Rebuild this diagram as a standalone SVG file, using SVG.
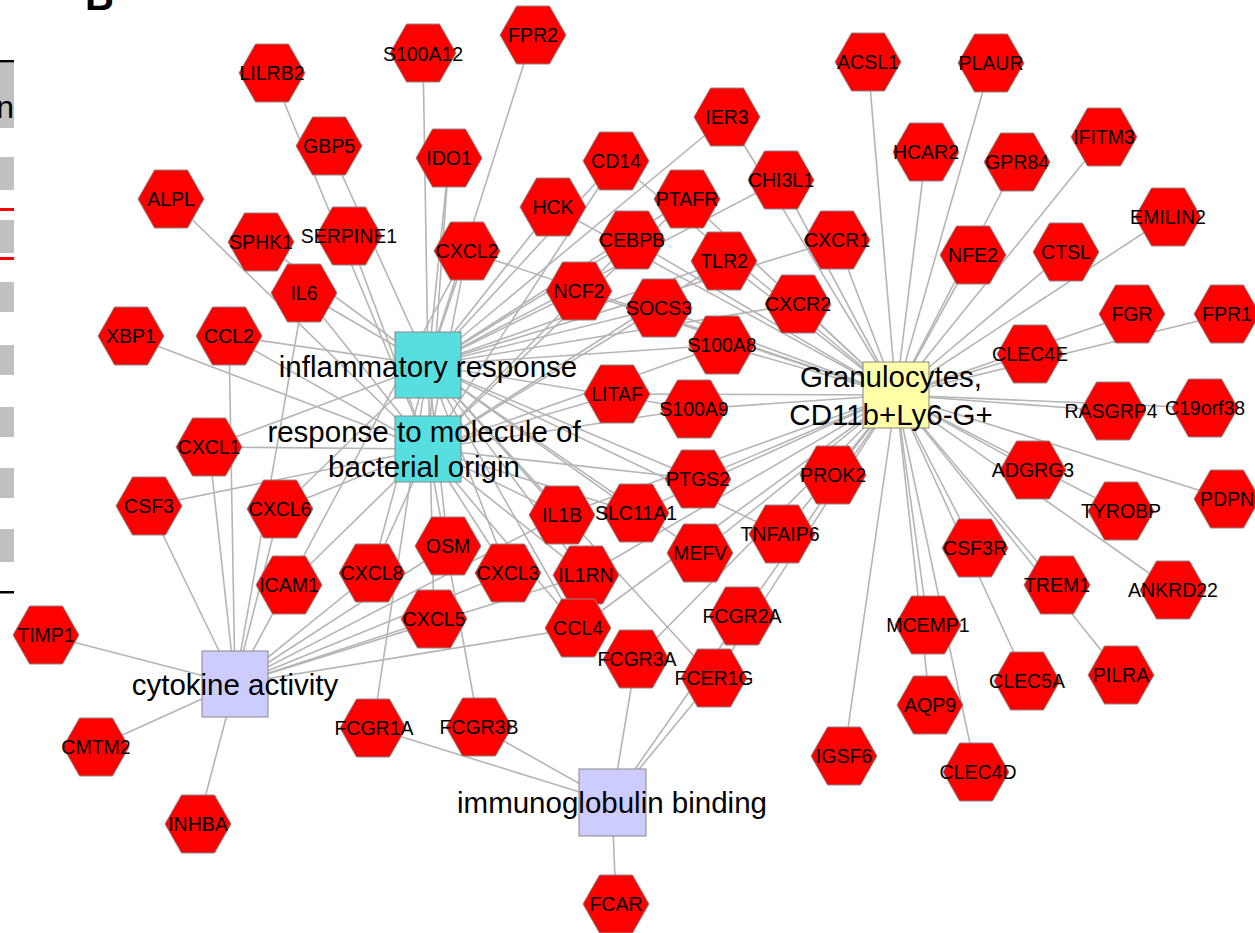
<svg xmlns="http://www.w3.org/2000/svg" xmlns:xlink="http://www.w3.org/1999/xlink" width="1255" height="933" viewBox="0 0 1255 933">
<style>
.e line{stroke:#b5b5b5;stroke-width:1.6}
.hx{fill:#ff0000;stroke:#888888;stroke-width:1}
.g{font-family:"Liberation Sans",Arial,sans-serif;font-size:19.5px;fill:#000;text-anchor:middle}
.h{font-family:"Liberation Sans",Arial,sans-serif;font-size:29.5px;fill:#000;text-anchor:middle}
.cy{fill:#57dfdf;stroke:#888888;stroke-width:1}
.lv{fill:#ccccff;stroke:#888888;stroke-width:1}
.yl{fill:#ffffa8;stroke:#888888;stroke-width:1}
.tb{fill:#c0c0c0}
</style>
<defs>
<polygon id="hex" points="-33,0 -16.5,-29 16.5,-29 33,0 16.5,29 -16.5,29"/>
</defs>
<rect x="0" y="0" width="1255" height="933" fill="#ffffff"/>
<g id="panel-edge">
<text x="85" y="10" font-family="Liberation Sans,Arial,sans-serif" font-size="40" font-weight="bold">B</text>
<rect x="0" y="60" width="14" height="2.5" fill="#000"/>
<rect class="tb" x="0" y="63" width="14" height="65"/>
<text x="14" y="118" font-family="Liberation Sans,Arial,sans-serif" font-size="32" text-anchor="end">on</text>
<rect class="tb" x="0" y="157" width="14" height="33"/>
<rect x="0" y="208" width="14" height="3" fill="#ff0000"/>
<rect class="tb" x="0" y="220" width="14" height="33"/>
<rect x="0" y="257" width="14" height="3" fill="#ff0000"/>
<rect class="tb" x="0" y="282" width="14" height="30"/>
<rect class="tb" x="0" y="345" width="14" height="30"/>
<rect class="tb" x="0" y="407" width="14" height="30"/>
<rect class="tb" x="0" y="468" width="14" height="30"/>
<rect class="tb" x="0" y="529" width="14" height="33"/>
<rect x="0" y="591" width="14" height="2.5" fill="#000"/>
</g>
<g id="edges" class="e">
<!-- inflammatory response -->
<line x1="428" y1="365" x2="329" y2="146"/>
<line x1="428" y1="365" x2="423" y2="53"/>
<line x1="428" y1="365" x2="533" y2="35"/>
<line x1="428" y1="365" x2="449" y2="158"/>
<line x1="428" y1="365" x2="261" y2="242"/>
<line x1="428" y1="365" x2="304" y2="293"/>
<line x1="428" y1="365" x2="229" y2="336"/>
<line x1="428" y1="365" x2="209" y2="447"/>
<line x1="428" y1="365" x2="280" y2="509"/>
<line x1="428" y1="365" x2="467" y2="251"/>
<line x1="428" y1="365" x2="553" y2="207"/>
<line x1="428" y1="365" x2="579" y2="291"/>
<line x1="428" y1="365" x2="616" y2="161"/>
<line x1="428" y1="365" x2="727" y2="117"/>
<line x1="428" y1="365" x2="781" y2="180"/>
<line x1="428" y1="365" x2="687" y2="199"/>
<line x1="428" y1="365" x2="632" y2="240"/>
<line x1="428" y1="365" x2="724" y2="261"/>
<line x1="428" y1="365" x2="837" y2="240"/>
<line x1="428" y1="365" x2="798" y2="304"/>
<line x1="428" y1="365" x2="659" y2="308"/>
<line x1="428" y1="365" x2="722" y2="345"/>
<line x1="428" y1="365" x2="694" y2="409"/>
<line x1="428" y1="365" x2="698" y2="479"/>
<line x1="428" y1="365" x2="782" y2="534"/>
<line x1="428" y1="365" x2="700" y2="553"/>
<line x1="428" y1="365" x2="636" y2="513"/>
<line x1="428" y1="365" x2="562" y2="515"/>
<line x1="428" y1="365" x2="586" y2="575"/>
<line x1="428" y1="365" x2="448" y2="546"/>
<line x1="428" y1="365" x2="372" y2="573"/>
<line x1="428" y1="365" x2="508" y2="573"/>
<line x1="428" y1="365" x2="434" y2="619"/>
<line x1="428" y1="365" x2="578" y2="628"/>
<line x1="428" y1="365" x2="373" y2="728"/>
<line x1="428" y1="365" x2="714" y2="678"/>
<!-- response to molecule of bacterial origin -->
<line x1="428" y1="449" x2="272" y2="73"/>
<line x1="428" y1="449" x2="449" y2="158"/>
<line x1="428" y1="449" x2="171" y2="199"/>
<line x1="428" y1="449" x2="349" y2="236"/>
<line x1="428" y1="449" x2="304" y2="293"/>
<line x1="428" y1="449" x2="131" y2="336"/>
<line x1="428" y1="449" x2="229" y2="336"/>
<line x1="428" y1="449" x2="209" y2="447"/>
<line x1="428" y1="449" x2="149" y2="506"/>
<line x1="428" y1="449" x2="280" y2="509"/>
<line x1="428" y1="449" x2="289" y2="585"/>
<line x1="428" y1="449" x2="467" y2="251"/>
<line x1="428" y1="449" x2="616" y2="161"/>
<line x1="428" y1="449" x2="687" y2="199"/>
<line x1="428" y1="449" x2="632" y2="240"/>
<line x1="428" y1="449" x2="724" y2="261"/>
<line x1="428" y1="449" x2="659" y2="308"/>
<line x1="428" y1="449" x2="722" y2="345"/>
<line x1="428" y1="449" x2="617" y2="394"/>
<line x1="428" y1="449" x2="694" y2="409"/>
<line x1="428" y1="449" x2="698" y2="479"/>
<line x1="428" y1="449" x2="636" y2="513"/>
<line x1="428" y1="449" x2="562" y2="515"/>
<line x1="428" y1="449" x2="586" y2="575"/>
<line x1="428" y1="449" x2="372" y2="573"/>
<line x1="428" y1="449" x2="508" y2="573"/>
<line x1="428" y1="449" x2="578" y2="628"/>
<line x1="428" y1="449" x2="479" y2="727"/>
<!-- cytokine activity -->
<line x1="235" y1="684" x2="304" y2="293"/>
<line x1="235" y1="684" x2="229" y2="336"/>
<line x1="235" y1="684" x2="209" y2="447"/>
<line x1="235" y1="684" x2="149" y2="506"/>
<line x1="235" y1="684" x2="280" y2="509"/>
<line x1="235" y1="684" x2="467" y2="251"/>
<line x1="235" y1="684" x2="46" y2="635"/>
<line x1="235" y1="684" x2="96" y2="747"/>
<line x1="235" y1="684" x2="198" y2="824"/>
<line x1="235" y1="684" x2="372" y2="573"/>
<line x1="235" y1="684" x2="448" y2="546"/>
<line x1="235" y1="684" x2="508" y2="573"/>
<line x1="235" y1="684" x2="434" y2="619"/>
<line x1="235" y1="684" x2="562" y2="515"/>
<line x1="235" y1="684" x2="586" y2="575"/>
<line x1="235" y1="684" x2="578" y2="628"/>
<!-- immunoglobulin binding -->
<line x1="612" y1="802" x2="373" y2="728"/>
<line x1="612" y1="802" x2="479" y2="727"/>
<line x1="612" y1="802" x2="636" y2="659"/>
<line x1="612" y1="802" x2="714" y2="678"/>
<line x1="612" y1="802" x2="742" y2="616"/>
<line x1="612" y1="802" x2="616" y2="904"/>
<!-- granulocytes -->
<line x1="896" y1="395" x2="467" y2="251"/>
<line x1="896" y1="395" x2="553" y2="207"/>
<line x1="896" y1="395" x2="579" y2="291"/>
<line x1="896" y1="395" x2="616" y2="161"/>
<line x1="896" y1="395" x2="727" y2="117"/>
<line x1="896" y1="395" x2="781" y2="180"/>
<line x1="896" y1="395" x2="687" y2="199"/>
<line x1="896" y1="395" x2="632" y2="240"/>
<line x1="896" y1="395" x2="724" y2="261"/>
<line x1="896" y1="395" x2="837" y2="240"/>
<line x1="896" y1="395" x2="798" y2="304"/>
<line x1="896" y1="395" x2="659" y2="308"/>
<line x1="896" y1="395" x2="722" y2="345"/>
<line x1="896" y1="395" x2="617" y2="394"/>
<line x1="896" y1="395" x2="694" y2="409"/>
<line x1="896" y1="395" x2="698" y2="479"/>
<line x1="896" y1="395" x2="833" y2="475"/>
<line x1="896" y1="395" x2="782" y2="534"/>
<line x1="896" y1="395" x2="700" y2="553"/>
<line x1="896" y1="395" x2="636" y2="513"/>
<line x1="896" y1="395" x2="562" y2="515"/>
<line x1="896" y1="395" x2="586" y2="575"/>
<line x1="896" y1="395" x2="578" y2="628"/>
<line x1="896" y1="395" x2="636" y2="659"/>
<line x1="896" y1="395" x2="714" y2="678"/>
<line x1="896" y1="395" x2="742" y2="616"/>
<line x1="896" y1="395" x2="844" y2="756"/>
<line x1="896" y1="395" x2="928" y2="625"/>
<line x1="896" y1="395" x2="930" y2="705"/>
<line x1="896" y1="395" x2="976" y2="772"/>
<line x1="896" y1="395" x2="1027" y2="681"/>
<line x1="896" y1="395" x2="1121" y2="675"/>
<line x1="896" y1="395" x2="1057" y2="585"/>
<line x1="896" y1="395" x2="1173" y2="590"/>
<line x1="896" y1="395" x2="975" y2="548"/>
<line x1="896" y1="395" x2="1121" y2="511"/>
<line x1="896" y1="395" x2="1227" y2="499"/>
<line x1="896" y1="395" x2="1033" y2="470"/>
<line x1="896" y1="395" x2="1113" y2="411"/>
<line x1="896" y1="395" x2="1205" y2="408"/>
<line x1="896" y1="395" x2="1030" y2="354"/>
<line x1="896" y1="395" x2="1132" y2="314"/>
<line x1="896" y1="395" x2="1227" y2="314"/>
<line x1="896" y1="395" x2="1168" y2="217"/>
<line x1="896" y1="395" x2="1066" y2="252"/>
<line x1="896" y1="395" x2="973" y2="255"/>
<line x1="896" y1="395" x2="1017" y2="162"/>
<line x1="896" y1="395" x2="1104" y2="137"/>
<line x1="896" y1="395" x2="991" y2="63"/>
<line x1="896" y1="395" x2="926" y2="152"/>
<line x1="896" y1="395" x2="868" y2="62"/>
</g>
<g id="n-LILRB2"><use href="#hex" class="hx" x="272" y="73"/><text class="g" x="272" y="80">LILRB2</text></g>
<g id="n-GBP5"><use href="#hex" class="hx" x="329" y="146"/><text class="g" x="329" y="153">GBP5</text></g>
<g id="n-S100A12"><use href="#hex" class="hx" x="423" y="53"/><text class="g" x="423" y="61">S100A12</text></g>
<g id="n-FPR2"><use href="#hex" class="hx" x="533" y="35"/><text class="g" x="533" y="42">FPR2</text></g>
<g id="n-IDO1"><use href="#hex" class="hx" x="449" y="158"/><text class="g" x="449" y="165">IDO1</text></g>
<g id="n-ALPL"><use href="#hex" class="hx" x="171" y="199"/><text class="g" x="171" y="206">ALPL</text></g>
<g id="n-SPHK1"><use href="#hex" class="hx" x="261" y="242"/><text class="g" x="261" y="249">SPHK1</text></g>
<g id="n-SERPINE1"><use href="#hex" class="hx" x="349" y="236"/><text class="g" x="349" y="243">SERPINE1</text></g>
<g id="n-IL6"><use href="#hex" class="hx" x="304" y="293"/><text class="g" x="304" y="300">IL6</text></g>
<g id="n-CXCL2"><use href="#hex" class="hx" x="467" y="251"/><text class="g" x="467" y="258">CXCL2</text></g>
<g id="n-HCK"><use href="#hex" class="hx" x="553" y="207"/><text class="g" x="553" y="214">HCK</text></g>
<g id="n-NCF2"><use href="#hex" class="hx" x="579" y="291"/><text class="g" x="579" y="298">NCF2</text></g>
<g id="n-CD14"><use href="#hex" class="hx" x="616" y="161"/><text class="g" x="616" y="168">CD14</text></g>
<g id="n-IER3"><use href="#hex" class="hx" x="727" y="117"/><text class="g" x="727" y="124">IER3</text></g>
<g id="n-CHI3L1"><use href="#hex" class="hx" x="781" y="180"/><text class="g" x="781" y="187">CHI3L1</text></g>
<g id="n-PTAFR"><use href="#hex" class="hx" x="687" y="199"/><text class="g" x="687" y="206">PTAFR</text></g>
<g id="n-CEBPB"><use href="#hex" class="hx" x="632" y="240"/><text class="g" x="632" y="247">CEBPB</text></g>
<g id="n-TLR2"><use href="#hex" class="hx" x="724" y="261"/><text class="g" x="724" y="268">TLR2</text></g>
<g id="n-CXCR1"><use href="#hex" class="hx" x="837" y="240"/><text class="g" x="837" y="247">CXCR1</text></g>
<g id="n-CXCR2"><use href="#hex" class="hx" x="798" y="304"/><text class="g" x="798" y="311">CXCR2</text></g>
<g id="n-SOCS3"><use href="#hex" class="hx" x="659" y="308"/><text class="g" x="659" y="315">SOCS3</text></g>
<g id="n-S100A8"><use href="#hex" class="hx" x="722" y="345"/><text class="g" x="722" y="352">S100A8</text></g>
<g id="n-LITAF"><use href="#hex" class="hx" x="617" y="394"/><text class="g" x="617" y="401">LITAF</text></g>
<g id="n-S100A9"><use href="#hex" class="hx" x="694" y="409"/><text class="g" x="694" y="416">S100A9</text></g>
<g id="n-XBP1"><use href="#hex" class="hx" x="131" y="336"/><text class="g" x="131" y="343">XBP1</text></g>
<g id="n-CCL2"><use href="#hex" class="hx" x="229" y="336"/><text class="g" x="229" y="343">CCL2</text></g>
<g id="n-CXCL1"><use href="#hex" class="hx" x="209" y="447"/><text class="g" x="209" y="454">CXCL1</text></g>
<g id="n-CSF3"><use href="#hex" class="hx" x="149" y="506"/><text class="g" x="149" y="513">CSF3</text></g>
<g id="n-CXCL6"><use href="#hex" class="hx" x="280" y="509"/><text class="g" x="280" y="516">CXCL6</text></g>
<g id="n-ICAM1"><use href="#hex" class="hx" x="289" y="585"/><text class="g" x="289" y="592">ICAM1</text></g>
<g id="n-TIMP1"><use href="#hex" class="hx" x="46" y="635"/><text class="g" x="46" y="642">TIMP1</text></g>
<g id="n-CMTM2"><use href="#hex" class="hx" x="96" y="747"/><text class="g" x="96" y="754">CMTM2</text></g>
<g id="n-INHBA"><use href="#hex" class="hx" x="198" y="824"/><text class="g" x="198" y="831">INHBA</text></g>
<g id="n-CXCL8"><use href="#hex" class="hx" x="372" y="573"/><text class="g" x="372" y="580">CXCL8</text></g>
<g id="n-OSM"><use href="#hex" class="hx" x="448" y="546"/><text class="g" x="448" y="553">OSM</text></g>
<g id="n-CXCL3"><use href="#hex" class="hx" x="508" y="573"/><text class="g" x="508" y="580">CXCL3</text></g>
<g id="n-IL1B"><use href="#hex" class="hx" x="562" y="515"/><text class="g" x="562" y="522">IL1B</text></g>
<g id="n-IL1RN"><use href="#hex" class="hx" x="586" y="575"/><text class="g" x="586" y="582">IL1RN</text></g>
<g id="n-CXCL5"><use href="#hex" class="hx" x="434" y="619"/><text class="g" x="434" y="626">CXCL5</text></g>
<g id="n-CCL4"><use href="#hex" class="hx" x="578" y="628"/><text class="g" x="578" y="635">CCL4</text></g>
<g id="n-SLC11A1"><use href="#hex" class="hx" x="636" y="513"/><text class="g" x="636" y="520">SLC11A1</text></g>
<g id="n-PTGS2"><use href="#hex" class="hx" x="698" y="479"/><text class="g" x="698" y="486">PTGS2</text></g>
<g id="n-MEFV"><use href="#hex" class="hx" x="700" y="553"/><text class="g" x="700" y="560">MEFV</text></g>
<g id="n-TNFAIP6"><use href="#hex" class="hx" x="782" y="534"/><text class="g" x="780" y="541">TNFAIP6</text></g>
<g id="n-PROK2"><use href="#hex" class="hx" x="833" y="475"/><text class="g" x="833" y="482">PROK2</text></g>
<g id="n-FCGR2A"><use href="#hex" class="hx" x="742" y="616"/><text class="g" x="742" y="623">FCGR2A</text></g>
<g id="n-FCGR3A"><use href="#hex" class="hx" x="636" y="659"/><text class="g" x="637" y="666">FCGR3A</text></g>
<g id="n-FCER1G"><use href="#hex" class="hx" x="714" y="678"/><text class="g" x="714" y="685">FCER1G</text></g>
<g id="n-FCGR1A"><use href="#hex" class="hx" x="373" y="728"/><text class="g" x="374" y="735">FCGR1A</text></g>
<g id="n-FCGR3B"><use href="#hex" class="hx" x="479" y="727"/><text class="g" x="479" y="734">FCGR3B</text></g>
<g id="n-FCAR"><use href="#hex" class="hx" x="616" y="904"/><text class="g" x="616" y="911">FCAR</text></g>
<g id="n-IGSF6"><use href="#hex" class="hx" x="844" y="756"/><text class="g" x="844" y="763">IGSF6</text></g>
<g id="n-MCEMP1"><use href="#hex" class="hx" x="928" y="625"/><text class="g" x="928" y="632">MCEMP1</text></g>
<g id="n-AQP9"><use href="#hex" class="hx" x="930" y="705"/><text class="g" x="930" y="712">AQP9</text></g>
<g id="n-CLEC4D"><use href="#hex" class="hx" x="976" y="772"/><text class="g" x="978" y="779">CLEC4D</text></g>
<g id="n-CLEC5A"><use href="#hex" class="hx" x="1027" y="681"/><text class="g" x="1027" y="688">CLEC5A</text></g>
<g id="n-PILRA"><use href="#hex" class="hx" x="1121" y="675"/><text class="g" x="1121" y="682">PILRA</text></g>
<g id="n-TREM1"><use href="#hex" class="hx" x="1057" y="585"/><text class="g" x="1057" y="592">TREM1</text></g>
<g id="n-ANKRD22"><use href="#hex" class="hx" x="1173" y="590"/><text class="g" x="1173" y="597">ANKRD22</text></g>
<g id="n-CSF3R"><use href="#hex" class="hx" x="975" y="548"/><text class="g" x="975" y="555">CSF3R</text></g>
<g id="n-TYROBP"><use href="#hex" class="hx" x="1121" y="511"/><text class="g" x="1121" y="518">TYROBP</text></g>
<g id="n-PDPN"><use href="#hex" class="hx" x="1227" y="499"/><text class="g" x="1227" y="506">PDPN</text></g>
<g id="n-ADGRG3"><use href="#hex" class="hx" x="1033" y="470"/><text class="g" x="1033" y="477">ADGRG3</text></g>
<g id="n-RASGRP4"><use href="#hex" class="hx" x="1113" y="411"/><text class="g" x="1111" y="418">RASGRP4</text></g>
<g id="n-C19orf38"><use href="#hex" class="hx" x="1205" y="408"/><text class="g" x="1205" y="415">C19orf38</text></g>
<g id="n-CLEC4E"><use href="#hex" class="hx" x="1030" y="354"/><text class="g" x="1030" y="361">CLEC4E</text></g>
<g id="n-FGR"><use href="#hex" class="hx" x="1132" y="314"/><text class="g" x="1132" y="321">FGR</text></g>
<g id="n-FPR1"><use href="#hex" class="hx" x="1227" y="314"/><text class="g" x="1227" y="321">FPR1</text></g>
<g id="n-EMILIN2"><use href="#hex" class="hx" x="1168" y="217"/><text class="g" x="1168" y="224">EMILIN2</text></g>
<g id="n-CTSL"><use href="#hex" class="hx" x="1066" y="252"/><text class="g" x="1066" y="259">CTSL</text></g>
<g id="n-NFE2"><use href="#hex" class="hx" x="973" y="255"/><text class="g" x="973" y="262">NFE2</text></g>
<g id="n-GPR84"><use href="#hex" class="hx" x="1017" y="162"/><text class="g" x="1017" y="169">GPR84</text></g>
<g id="n-IFITM3"><use href="#hex" class="hx" x="1104" y="137"/><text class="g" x="1104" y="144">IFITM3</text></g>
<g id="n-PLAUR"><use href="#hex" class="hx" x="991" y="63"/><text class="g" x="991" y="70">PLAUR</text></g>
<g id="n-HCAR2"><use href="#hex" class="hx" x="926" y="152"/><text class="g" x="926" y="159">HCAR2</text></g>
<g id="n-ACSL1"><use href="#hex" class="hx" x="868" y="62"/><text class="g" x="868" y="69">ACSL1</text></g>
<g id="hub-inflammatory"><rect class="cy" x="395" y="332" width="66" height="66"/><text class="h" x="428" y="377">inflammatory response</text></g>
<g id="hub-bacterial"><rect class="cy" x="395" y="416" width="66" height="66"/><text class="h" x="424" y="442">response to molecule of</text><text class="h" x="424" y="477">bacterial origin</text></g>
<g id="hub-cytokine"><rect class="lv" x="202" y="651" width="66" height="66"/><text class="h" x="235" y="695">cytokine activity</text></g>
<g id="hub-immunoglobulin"><rect class="lv" x="579" y="769" width="67" height="67"/><text class="h" x="612" y="813">immunoglobulin binding</text></g>
<g id="hub-granulocytes"><rect class="yl" x="863" y="362" width="66" height="66"/><text class="h" x="891" y="387">Granulocytes,</text><text class="h" x="891" y="425">CD11b+Ly6-G+</text></g>
</svg>
